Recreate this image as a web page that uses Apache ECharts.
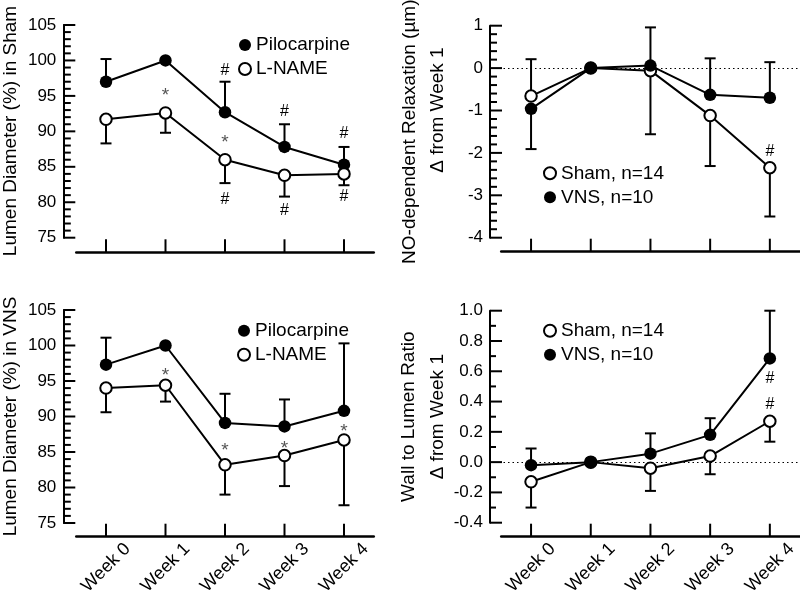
<!DOCTYPE html>
<html><head><meta charset="utf-8">
<script src="https://cdn.jsdelivr.net/npm/echarts/dist/echarts.min.js"></script>
<style>html,body{margin:0;padding:0;background:#fff}#c{width:800px;height:594px}</style>
</head><body><div id="c"></div>
<script>
// ---------- data ----------
const categories = ['Week 0', 'Week 1', 'Week 2', 'Week 3', 'Week 4'];

// Lumen diameter (%) in Sham
const shamPilo = [97.0, 100.0, 92.7, 87.8, 85.3];
const shamPiloErr = [100.2, null, 97.0, 91.0, 87.8];
const shamLname = [91.7, 92.6, 86.0, 83.8, 84.0];
const shamLnameErr = [88.3, 89.8, 82.7, 80.8, 82.4];

// Lumen diameter (%) in VNS
const vnsPilo = [97.3, 100.0, 89.1, 88.6, 90.8];
const vnsPiloErr = [101.1, null, 93.2, 92.4, 100.3];
const vnsLname = [94.0, 94.4, 83.2, 84.5, 86.7];
const vnsLnameErr = [90.6, 92.1, 79.0, 80.2, 77.5];

// NO-dependent relaxation, change from week 1
const noSham = [-0.66, 0, -0.06, -1.12, -2.35];
const noShamErr = [0.21, null, -1.56, -2.31, -3.50];
const noVns = [-0.96, 0, 0.06, -0.63, -0.70];
const noVnsErr = [-1.91, null, 0.96, 0.23, 0.14];

// Wall to lumen ratio, change from week 1
const wlSham = [-0.13, 0, -0.04, 0.04, 0.27];
const wlShamErr = [-0.30, null, -0.19, -0.08, 0.135];
const wlVns = [-0.02, 0, 0.056, 0.18, 0.685];
const wlVnsErr = [0.09, null, 0.19, 0.29, 1.0];

// significance marks [category, value, symbol]
const annotShamLumen = [['Week 1', 95.7, '*'], ['Week 2', 98.5, '#'], ['Week 2', 89.1, '*'], ['Week 2', 80.4, '#'],
  ['Week 3', 92.8, '#'], ['Week 3', 78.8, '#'], ['Week 4', 89.7, '#'], ['Week 4', 80.8, '#']];
const annotVnsLumen = [['Week 1', 96.5, '*'], ['Week 2', 85.85, '*'], ['Week 3', 86.2, '*'], ['Week 4', 88.5, '*']];
const annotNo = [['Week 4', -1.96, '#']];
const annotWl = [['Week 4', 0.553, '#'], ['Week 4', 0.38, '#']];

// ---------- chart ----------
const FF = '"Liberation Sans", Arial, Helvetica, sans-serif';
const chart = echarts.init(document.getElementById('c'), null, {renderer: 'canvas'});

// plot rect, detached y-axis x-position, detached x-axis y-position
const P = [
  {left: 76.25, top: 25, width: 297.5, height: 212.7, yAxisX: 63.3, xAxisY: 252.3, minorLen: 7.5},
  {left: 501.2, top: 25.7, width: 298.5, height: 212, yAxisX: 490, xAxisY: 251.7, minorLen: 7},
  {left: 76.25, top: 310, width: 297.5, height: 213, yAxisX: 63.3, xAxisY: 536.7, minorLen: 7.5},
  {left: 501.2, top: 310.7, width: 298.5, height: 212, yAxisX: 490, xAxisY: 536.7, minorLen: 6}
];
const Y = [
  {min: 75, max: 105, interval: 5, minor: 5, fmt: v => String(Math.round(v))},
  {min: -4, max: 1, interval: 1, minor: 5, fmt: v => String(Math.round(v))},
  {min: 75, max: 105, interval: 5, minor: 5, fmt: v => String(Math.round(v))},
  {min: -0.4, max: 1.0, interval: 0.2, minor: 2, fmt: v => (Math.abs(v) < 1e-9 ? 0 : v).toFixed(1)}
];

const grids = [], xAxes = [], yAxes = [];
P.forEach((p, i) => {
  const y = Y[i];
  const n = categories.length;
  const band = p.width / n;
  const xMin = -0.5 - (p.left - p.yAxisX) / band, xMax = n - 0.5;
  const yUnit = (y.max - y.min) / p.height;
  const yMin = y.min - (p.xAxisY - (p.top + p.height)) * yUnit;
  // data grid
  grids.push({left: p.yAxisX, top: p.top, width: p.left + p.width - p.yAxisX, height: p.xAxisY - p.top,
    containLabel: false, outerBoundsMode: 'none'});
  xAxes.push({type: 'value', gridIndex: 3 * i, min: xMin, max: xMax, show: false});
  yAxes.push({type: 'value', gridIndex: 3 * i, min: yMin, max: y.max, show: false});
  // y-axis grid (visible axis line + labels)
  grids.push({left: p.yAxisX, top: p.top, width: 10, height: p.height, containLabel: false, outerBoundsMode: 'none'});
  xAxes.push({type: 'value', gridIndex: 3 * i + 1, show: false, min: 0, max: 1});
  yAxes.push({type: 'value', gridIndex: 3 * i + 1, position: 'left', min: y.min, max: y.max, interval: y.interval,
    axisLine: {show: true, onZero: false, lineStyle: {color: '#000', width: 2}},
    axisTick: {show: false}, minorTick: {show: false},
    splitLine: {show: false}, minorSplitLine: {show: false},
    axisLabel: {color: '#000', fontSize: 17, fontFamily: FF, margin: 7, formatter: y.fmt}});
  // x-axis grid (visible axis line + labels)
  grids.push({left: p.left, top: p.xAxisY - 10, width: p.width, height: 10, containLabel: false, outerBoundsMode: 'none'});
  xAxes.push({type: 'category', gridIndex: 3 * i + 2, data: categories, boundaryGap: true, position: 'bottom',
    axisLine: {show: true, onZero: false, lineStyle: {color: '#000', width: 2.5}},
    axisTick: {show: false},
    splitLine: {show: false},
    axisLabel: {show: i >= 2, color: '#000', fontSize: 18, fontFamily: FF, rotate: 45,
      align: 'center', verticalAlign: 'middle', margin: 31, interval: 0}});
  yAxes.push({type: 'value', gridIndex: 3 * i + 2, show: false, min: 0, max: 1});
});

function errData(means, ends) {
  const out = [];
  means.forEach((m, i) => { if (ends[i] != null) out.push([i, m, ends[i]]); });
  return out;
}
function errRender(params, api) {
  const p0 = api.coord([api.value(0), api.value(1)]);
  const p1 = api.coord([api.value(0), api.value(2)]);
  const w = 5.5;
  return {type: 'group', children: [
    {type: 'line', shape: {x1: p0[0], y1: p0[1], x2: p1[0], y2: p1[1]}, style: {stroke: '#000', lineWidth: 2}},
    {type: 'line', shape: {x1: p1[0] - w, y1: p1[1], x2: p1[0] + w, y2: p1[1]}, style: {stroke: '#000', lineWidth: 2}}
  ]};
}
function errSeries(pi, means, ends) {
  return {type: 'custom', xAxisIndex: 3 * pi, yAxisIndex: 3 * pi, z: 1, silent: true,
    data: errData(means, ends), renderItem: errRender};
}
function annotSeries(pi, arr) {
  return {type: 'custom', xAxisIndex: 3 * pi, yAxisIndex: 3 * pi, z: 5, silent: true,
    data: arr.map(a => [categories.indexOf(a[0]), a[1]]),
    renderItem: function (params, api) {
      const p = api.coord([api.value(0), api.value(1)]);
      const t = arr[params.dataIndex][2];
      const star = t === '*';
      return {type: 'text', x: p[0], y: p[1] + (star ? 5 : 0),
        style: {text: t, fontSize: star ? 19 : 16, fontFamily: FF, fill: star ? '#555' : '#000',
          align: 'center', verticalAlign: 'middle'}};
    }};
}
function lineSeries(pi, name, data, filled, extra) {
  return Object.assign({type: 'line', name: name, xAxisIndex: 3 * pi, yAxisIndex: 3 * pi, z: 3,
    data: data.map((v, k) => [k, v]), symbol: 'circle', symbolSize: filled ? 12.5 : 11.5, showAllSymbol: true,
    lineStyle: {color: '#000', width: 2},
    itemStyle: filled ? {color: '#000', borderWidth: 0} : {color: '#fff', borderColor: '#000', borderWidth: 2},
    emphasis: {disabled: true}, animation: false}, extra || {});
}
const zeroLine = {markLine: {silent: true, symbol: 'none', label: {show: false}, animation: false, z: 0,
  lineStyle: {type: [1.5, 3], color: '#000', width: 1}, data: [{yAxis: 0}]}};

function legend(left, top, items) {
  return {left: left, top: top, orient: 'vertical', itemWidth: 12, itemHeight: 12, itemGap: 4,
    selectedMode: false, textStyle: {fontSize: 19, fontFamily: FF, color: '#000', lineHeight: 20},
    data: items};
}
const FILLED = n => ({name: n, icon: 'circle', itemStyle: {color: '#000', borderWidth: 0}});
const OPEN = n => ({name: n, icon: 'circle', itemStyle: {color: '#fff', borderColor: '#000', borderWidth: 2}});

function title(x, y, text) {
  return {type: 'text', x: x, y: y, rotation: Math.PI / 2,
    style: {text: text, fontSize: 19, fontFamily: FF, fill: '#000', align: 'center', verticalAlign: 'middle'}};
}
const titles = [
  title(11, 131, 'Lumen Diameter (%) in Sham'),
  title(11, 416.5, 'Lumen Diameter (%) in VNS'),
  title(410, 131.7, 'NO-dependent Relaxation (µm)'),
  title(438, 110, 'Δ from Week 1'),
  title(409, 416.7, 'Wall to Lumen Ratio'),
  title(438, 416.7, 'Δ from Week 1')
];

const option = {
  backgroundColor: '#fff',
  animation: false,
  grid: grids,
  xAxis: xAxes,
  yAxis: yAxes,
  legend: [
    legend(233, 30, [FILLED('Pilocarpine'), OPEN('L-NAME')]),
    legend(538, 158.3, [OPEN('Sham, n=14'), FILLED('VNS, n=10')]),
    legend(232, 315.7, [FILLED('Pilocarpine'), OPEN('L-NAME')]),
    legend(538, 315.7, [OPEN('Sham, n=14'), FILLED('VNS, n=10')])
  ],
  graphic: titles,
  series: [
    errSeries(0, shamPilo, shamPiloErr),
    errSeries(0, shamLname, shamLnameErr),
    lineSeries(0, 'Pilocarpine', shamPilo, true),
    lineSeries(0, 'L-NAME', shamLname, false),
    annotSeries(0, annotShamLumen),
    errSeries(1, noSham, noShamErr),
    errSeries(1, noVns, noVnsErr),
    lineSeries(1, 'Sham, n=14', noSham, false, zeroLine),
    lineSeries(1, 'VNS, n=10', noVns, true),
    annotSeries(1, annotNo),
    errSeries(2, vnsPilo, vnsPiloErr),
    errSeries(2, vnsLname, vnsLnameErr),
    lineSeries(2, 'Pilocarpine', vnsPilo, true),
    lineSeries(2, 'L-NAME', vnsLname, false),
    annotSeries(2, annotVnsLumen),
    errSeries(3, wlSham, wlShamErr),
    errSeries(3, wlVns, wlVnsErr),
    lineSeries(3, 'Sham, n=14', wlSham, false, zeroLine),
    lineSeries(3, 'VNS, n=10', wlVns, true),
    annotSeries(3, annotWl)
  ]
};
chart.setOption(option);

// axis tick marks, positioned through the visible axes' own scales
const tickEls = [];
P.forEach((p, i) => {
  const y = Y[i];
  const nSteps = Math.round((y.max - y.min) / y.interval) * y.minor;
  for (let k = 0; k <= nSteps; k++) {
    const v = y.min + k * y.interval / y.minor;
    const py = chart.convertToPixel({yAxisIndex: 3 * i + 1}, v);
    const len = k % y.minor === 0 ? 12 : p.minorLen;
    tickEls.push({type: 'line', silent: true, z: 100,
      shape: {x1: p.yAxisX, y1: py, x2: p.yAxisX + len, y2: py},
      style: {stroke: '#000', lineWidth: 2}});
  }
  categories.forEach(c => {
    const px = chart.convertToPixel({xAxisIndex: 3 * i + 2}, c);
    tickEls.push({type: 'line', silent: true, z: 100,
      shape: {x1: px, y1: p.xAxisY, x2: px, y2: p.xAxisY - 13},
      style: {stroke: '#000', lineWidth: 2}});
  });
});
chart.setOption({graphic: titles.concat(tickEls)});
</script>
</body></html>
